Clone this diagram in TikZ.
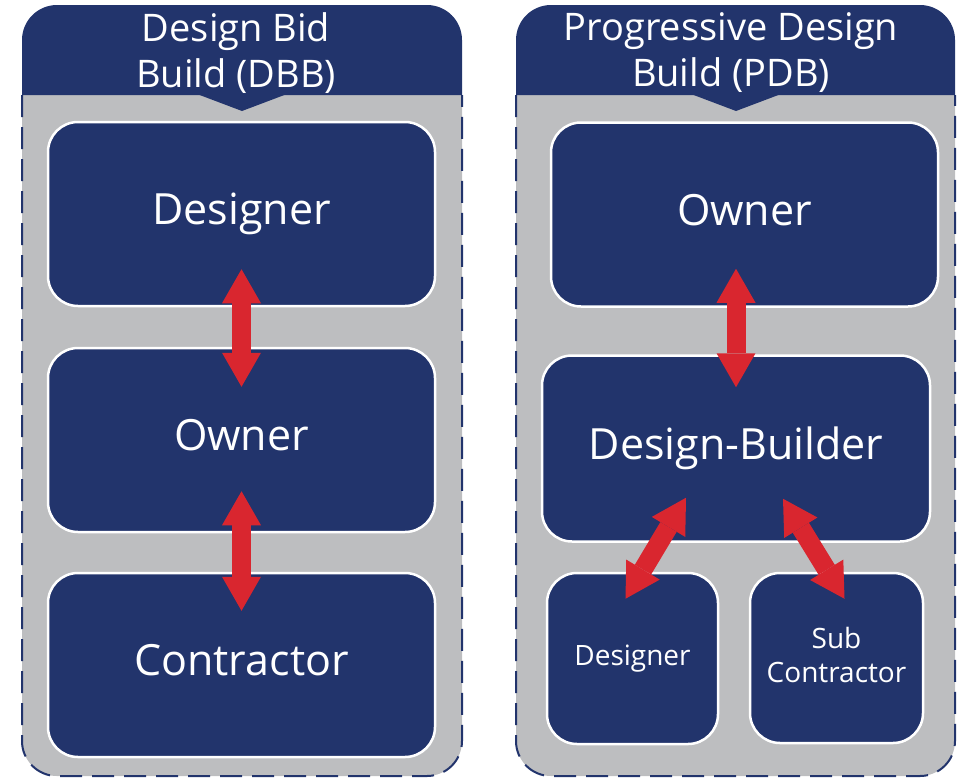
\documentclass[tikz,border=0pt]{standalone}
\usepackage{fontspec}
\setmainfont{Open Sans}
\usetikzlibrary{positioning,calc,arrows.meta}

\definecolor{navy}{HTML}{22346C}
\definecolor{panelgray}{HTML}{BDBEC0}
\definecolor{arrowred}{HTML}{D9262F}

\tikzset{
  box/.style={draw=white, line width=2.5pt, fill=navy, rounded corners=30pt,
    text=white, align=center, font=\fontsize{43}{51}\selectfont, text depth=10pt,
    minimum width=387pt, minimum height=184pt, inner sep=0pt},
  smallbox/.style={box, font=\fontsize{28}{34}\selectfont, text depth=6pt,
    minimum width=171pt, minimum height=171pt},
  title/.style={text=white, align=center, font=\fontsize{38}{46}\selectfont},
  panelline/.style={navy, line width=2pt, dash pattern=on 22pt off 10pt},
  bigarrow/.style={draw=arrowred, line width=19pt,
    {Triangle[width=39pt,length=34pt,line width=0pt]}-{Triangle[width=39pt,length=34pt,line width=0pt]}}
}

\begin{document}
\begin{tikzpicture}[x=1pt,y=-1pt]
  \useasboundingbox (0,0) rectangle (968,779);

  % left panel
  \fill[panelgray, rounded corners=35pt] (22,95) -- (22,776) -- (462,776) -- (462,95);
  \draw[panelline, rounded corners=35pt] (22,95) -- (22,776) -- (462,776) -- (462,95);
  \fill[navy, rounded corners=35pt] (22,95) -- (22,5) -- (462,5) -- (462,95);
  \fill[navy] (197,94) -- (242,111) -- (287,94) -- cycle;
  \node[title] (dbbtitle) at (236,53) {Design Bid\\Build (DBB)};

  % right panel
  \fill[panelgray, rounded corners=35pt] (516,95) -- (516,776) -- (955,776) -- (955,95);
  \draw[panelline, rounded corners=35pt] (516,95) -- (516,776) -- (955,776) -- (955,95);
  \fill[navy, rounded corners=35pt] (516,95) -- (516,5) -- (955,5) -- (955,95);
  \fill[navy] (691,94) -- (736,111) -- (781,94) -- cycle;
  \node[title] (pdbtitle) at (731,53) {Progressive Design\\Build (PDB)};

  % DBB boxes
  \node[box] (designerL) at (241.5,214) {Designer};
  \node[box] (ownerL) at (241.5,440) {Owner};
  \node[box] (contractorL) at (241.5,665) {Contractor};

  % PDB boxes
  \node[box] (ownerR) at (744.5,214.5) {Owner};
  \node[box, minimum width=388pt, minimum height=186pt] (builder) at (736,448.5) {Design-Builder};
  \node[smallbox] (designerR) at (632.5,658.5) {Designer};
  \node[smallbox, minimum width=173pt, minimum height=170pt] (sub) at (836.5,658) {Sub\\Contractor};

  % arrows
  \draw[bigarrow, shorten <=-38pt, shorten >=-40pt] (designerL) -- (ownerL);
  \draw[bigarrow, shorten <=-42pt, shorten >=-39pt] (ownerL) -- (contractorL);
  \draw[bigarrow, shorten <=-39pt, shorten >=-33pt] (builder.north |- ownerR.south) -- (builder.north);
  \draw[bigarrow] ($(builder.south)+(-50,-45)$) -- ($(designerR.north)+(-7,27)$);
  \draw[bigarrow] ($(builder.south)+(47,-44)$) -- ($(sub.north)+(8,27)$);
\end{tikzpicture}
\end{document}
